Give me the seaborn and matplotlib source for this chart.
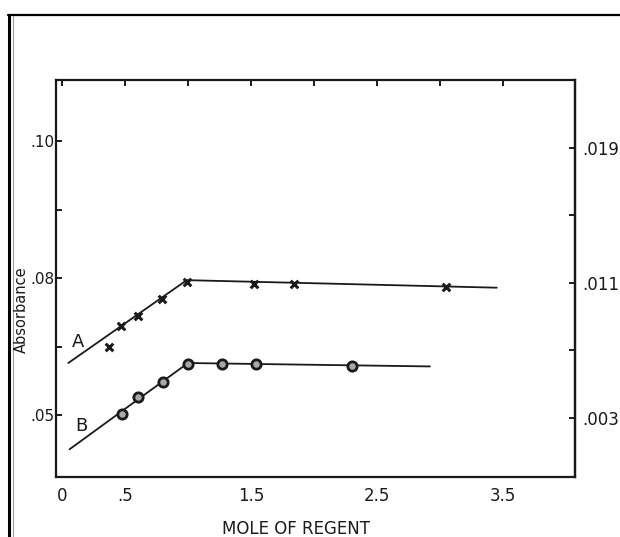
import matplotlib
matplotlib.use("Agg")
import matplotlib.pyplot as plt
from matplotlib.lines import Line2D
import seaborn as sns
import pandas as pd

# Series A: measured points (x marks) and its two-segment fitted line
a_x = [0.37, 0.47, 0.60, 0.79, 0.99, 1.52, 1.84, 3.05]
a_y = [0.0699, 0.0730, 0.0745, 0.0770, 0.0795, 0.0792, 0.0791, 0.0787]
a_fit_x = [0.05, 0.99, 3.45]
a_fit_y = [0.0676, 0.0797, 0.0786]

# Series B: measured points (circles) and its two-segment fitted line
b_x = [0.48, 0.60, 0.80, 1.00, 1.27, 1.54, 2.30]
b_y = [0.0601, 0.0627, 0.0648, 0.0675, 0.0674, 0.0674, 0.0671]
b_fit_x = [0.06, 1.00, 2.92]
b_fit_y = [0.0550, 0.0676, 0.0671]

# Axis ticks and labels
x_ticks = [0, 0.5, 1.0, 1.5, 2.0, 2.5, 3.0, 3.5]
x_labels = ["0", ".5", "", "1.5", "", "2.5", "", "3.5"]
left_ticks = [0.06, 0.07, 0.08, 0.09, 0.10]
left_labels = [".05", "", ".08", "", ".10"]
right_ticks = [0.003, 0.007, 0.011, 0.015, 0.019]
right_labels = [".003", "", ".011", "", ".019"]

sns.set_style("white")
plt.rcParams["font.family"] = ["DejaVu Sans"]

fig = plt.figure(figsize=(6.2, 5.37), dpi=100)
ax = fig.add_axes([56 / 620, 0.1117, 519 / 620, 0.7393])

ink = "#1a1a1a"

df_a = pd.DataFrame({"x": a_x, "y": a_y})
df_b = pd.DataFrame({"x": b_x, "y": b_y})
fit_a = pd.DataFrame({"x": a_fit_x, "y": a_fit_y})
fit_b = pd.DataFrame({"x": b_fit_x, "y": b_fit_y})

sns.lineplot(data=fit_a, x="x", y="y", sort=False, estimator=None,
             color=ink, linewidth=1.3, ax=ax)
sns.lineplot(data=fit_b, x="x", y="y", sort=False, estimator=None,
             color=ink, linewidth=1.3, ax=ax)
sns.scatterplot(data=df_a, x="x", y="y", marker="x", s=30, linewidth=2.2,
                color=ink, ax=ax, zorder=5)
sns.scatterplot(data=df_b, x="x", y="y", marker="o", s=45, linewidth=2.0,
                facecolor="#a8a8a8", edgecolor=ink, ax=ax, zorder=5)

ax.text(0.13, 0.0706, "A", fontsize=13, color=ink, ha="center", va="center")
ax.text(0.155, 0.0584, "B", fontsize=13, color=ink, ha="center", va="center")

ax.set_xlim(-0.0476, 4.071)
ax.set_ylim(0.05095, 0.10893)
ax.set_xticks(x_ticks)
ax.set_xticklabels(x_labels)
ax.set_yticks(left_ticks)
ax.set_yticklabels(left_labels)
ax.set_xlabel("")
ax.set_ylabel("")

for s in ax.spines.values():
    s.set_color(ink)
    s.set_linewidth(1.6)

ax.tick_params(axis="x", direction="in", length=4, width=1.4, colors=ink,
               labelsize=12, pad=7, top=True, labeltop=False)
ax.tick_params(axis="y", direction="in", length=4, width=1.4, colors=ink,
               labelsize=11, pad=1)

ax2 = ax.twinx()
ax2.set_ylim(-0.0005, 0.02303)
ax2.set_yticks(right_ticks)
ax2.set_yticklabels(right_labels)
for name, s in ax2.spines.items():
    s.set_visible(name == "right")
    s.set_color(ink)
    s.set_linewidth(1.6)
ax2.tick_params(axis="y", direction="in", length=4, width=1.4, colors=ink,
                labelsize=12, pad=5)

fig.text(21 / 620, 1 - 310 / 537, "Absorbance", rotation=90, fontsize=10.5,
         color=ink, ha="center", va="center")
fig.text(296 / 620, 1 - 529 / 537, "MOLE OF REGENT", fontsize=12,
         color=ink, ha="center", va="center")

# page border of the printed figure
fig.add_artist(Line2D([9 / 620, 9 / 620], [0, 1 - 15 / 537],
                      transform=fig.transFigure, color="black", linewidth=2.2))
fig.add_artist(Line2D([13 / 620, 13 / 620], [0, 1 - 16 / 537],
                      transform=fig.transFigure, color="#9a9a9a", linewidth=0.8))
fig.add_artist(Line2D([8 / 620, 1], [1 - 15 / 537, 1 - 15 / 537],
                      transform=fig.transFigure, color="black", linewidth=1.6))

fig.savefig("out.png", dpi=100, facecolor="white")
